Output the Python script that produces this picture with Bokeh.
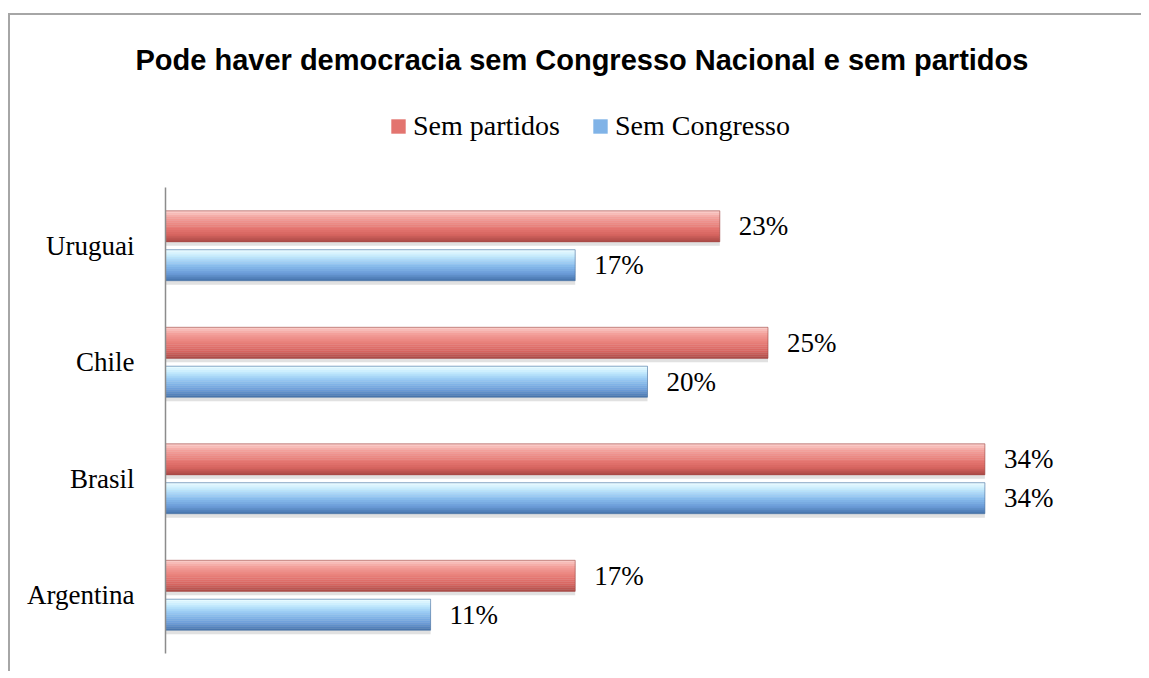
from bokeh.plotting import figure
from bokeh.models import (Range1d, Legend, LegendItem, ColumnDataSource, Title,
                          FixedTicker)
from bokeh.transform import dodge
from bokeh.core.properties import value
from bokeh.embed import file_html
from bokeh.resources import INLINE

countries = ["Argentina", "Brasil", "Chile", "Uruguai"]
sem_partidos = [17, 34, 25, 23]
sem_congresso = [11, 34, 20, 17]
series_names = ["Sem partidos", "Sem Congresso"]
title_text = "Pode haver democracia sem Congresso Nacional e sem partidos"

SERIF = "Liberation Serif"
W, HGT = 1133, 658
MB_LEFT, MB_RIGHT, MB_TOP, MB_BOTTOM = 155, 14, 60, 20
FRAME_H = HGT - MB_BOTTOM - MB_TOP
UNIT_PX = 116.5
n_cat = len(countries)
top_extra = FRAME_H / UNIT_PX - n_cat

p = figure(
    width=W, height=HGT,
    x_range=Range1d(0, 40),
    y_range=Range1d(-0.5, n_cat - 0.5 + top_extra),
    output_backend="svg", toolbar_location=None,
    min_border_left=MB_LEFT, min_border_right=MB_RIGHT,
    min_border_top=MB_TOP, min_border_bottom=MB_BOTTOM,
)
p.margin = (13, 0, 0, 8)
p.styles = {"border-top": "2px solid #a6a6a6", "border-left": "2px solid #a6a6a6"}

pos = list(range(n_cat))
src = ColumnDataSource(dict(
    pos=pos,
    partidos=sem_partidos,
    congresso=sem_congresso,
    lbl_p=[f"{v}%" for v in sem_partidos],
    lbl_c=[f"{v}%" for v in sem_congresso],
))


def hex2rgb(h):
    return tuple(int(h[i:i + 2], 16) for i in (1, 3, 5))


def ramp(stops, n):
    out = []
    for k in range(n):
        t = k / (n - 1) * (len(stops) - 1)
        i = min(int(t), len(stops) - 2)
        f = t - i
        a, b = hex2rgb(stops[i]), hex2rgb(stops[i + 1])
        out.append("#%02x%02x%02x" % tuple(round(a[j] + (b[j] - a[j]) * f) for j in range(3)))
    return out


H = 0.266
N_STRIPS = 16
red_stops = ["#f9c9c5", "#f3a09b", "#ec8a84", "#e3746f", "#d6645f", "#b04e4a"]
blue_stops = ["#e6faff", "#c2e9fd", "#9ccdf4", "#80b3e7", "#6a9ad6", "#4a78b0"]

legend_renderers = []
for col, off, stops, edge in [("partidos", 0.167, red_stops, "#9e4744"),
                              ("congresso", -0.167, blue_stops, "#46709f")]:
    # soft shadow under each bar
    p.hbar(y=dodge("pos", off - 0.035, range=p.y_range), right=col, left=0,
           height=H, source=src, fill_color="#bdbdbd", fill_alpha=0.45, line_color=None)
    cols = ramp(stops, N_STRIPS)
    mid = None
    for i, c in enumerate(cols):
        yo = off + H / 2 - (i + 0.5) * H / N_STRIPS
        r = p.hbar(y=dodge("pos", yo, range=p.y_range), right=col, left=0,
                   height=H / N_STRIPS + 0.002, source=src, fill_color=c, line_color=None)
        if i == N_STRIPS // 2 + 1:
            mid = r
    p.hbar(y=dodge("pos", off, range=p.y_range), right=col, left=0,
           height=H, source=src, fill_alpha=0, line_color=edge, line_width=1, line_alpha=0.6)
    legend_renderers.append(mid)
    p.text(x=col, y=dodge("pos", off, range=p.y_range), text="lbl_" + col[0],
           source=src, x_offset=19, text_baseline="middle",
           text_font=value(SERIF), text_font_size="27px", text_color="#000000")

# real title (nearest to the frame)
main_title = Title(text=title_text, align="left", offset=-30,
                   text_font="Liberation Sans", text_font_style="bold",
                   text_font_size="29px", text_color="#000000", standoff=0)
p.add_layout(main_title, "above")
# built-in title used as top spacer (outermost)
p.title.text = " "
p.title.text_font_size = "11px"
p.title.standoff = 0

LEGEND_BOTTOM_PX = 127  # distance of legend bottom below canvas top
legend = Legend(items=[LegendItem(label=series_names[0], renderers=[legend_renderers[0]]),
                       LegendItem(label=series_names[1], renderers=[legend_renderers[1]])],
                orientation="horizontal",
                location=(224, HGT - MB_BOTTOM - LEGEND_BOTTOM_PX),
                label_text_font=SERIF, label_text_font_size="28px",
                label_text_color="#000000",
                glyph_width=18, glyph_height=18, label_standoff=6, spacing=31,
                border_line_color=None, background_fill_alpha=0, padding=0, margin=0)
p.add_layout(legend, "center")

p.xaxis.visible = False
p.xgrid.visible = False
p.ygrid.visible = False
p.outline_line_color = None
p.yaxis.bounds = (-0.5, n_cat - 0.5)
p.yaxis.ticker = FixedTicker(ticks=pos)
p.yaxis.major_label_overrides = {i: c for i, c in zip(pos, countries)}
p.yaxis.axis_line_color = "#8c8c8c"
p.yaxis.axis_line_width = 1.5
p.yaxis.major_tick_line_color = None
p.yaxis.minor_tick_line_color = None
p.yaxis.major_label_standoff = 25
p.yaxis.major_label_text_font = SERIF
p.yaxis.major_label_text_font_size = "27px"
p.yaxis.major_label_text_color = "#000000"

open("out.html", "w").write(file_html(p, INLINE))
